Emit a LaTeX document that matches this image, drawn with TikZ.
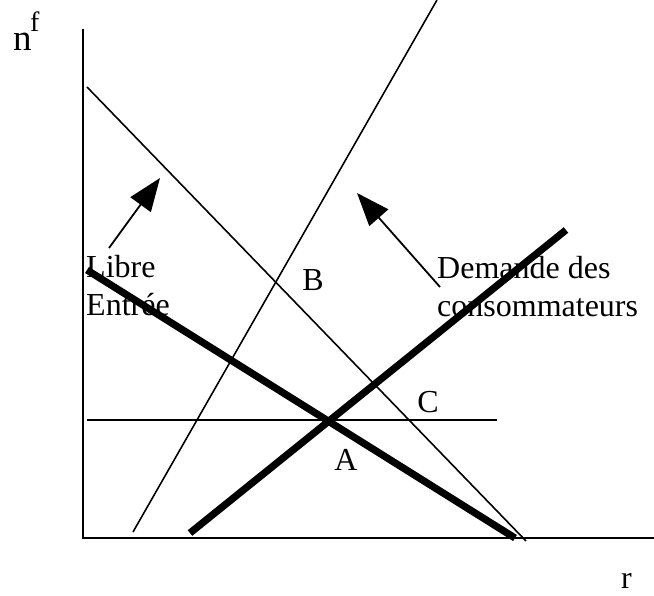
\documentclass[tikz,border=0pt]{standalone}
\usepackage{fontspec}
\setmainfont{Liberation Serif}
\usetikzlibrary{arrows.meta}
\begin{document}
\begin{tikzpicture}[x=1pt,y=-1pt,
  thinline/.style={line width=1.6pt},
  thickline/.style={line width=7.2pt},
  axis/.style={line width=2.2pt},
  lbl/.style={font=\fontsize{32}{36}\selectfont, inner sep=0pt, anchor=base west},
  ptr/.style={line width=1.8pt, -{Triangle[length=33pt,width=25pt]}}]
\useasboundingbox[fill=white] (0,0) rectangle (654,596);
% axes
\coordinate (o) at (83,538);
\coordinate (ytop) at (83,29);
\coordinate (xend) at (654,538);
\draw[axis] (ytop) -- (o) -- (xend);
% thin lines
\coordinate (d1) at (87,87);
\coordinate (d2) at (526,541);
\draw[thinline] (d1) -- (d2);
\coordinate (u1) at (133,532);
\coordinate (u2) at (437,0);
\draw[thinline] (u1) -- (u2);
\coordinate (h1) at (87,420);
\coordinate (h2) at (497,420);
\draw[thinline] (h1) -- (h2);
% thick lines
\coordinate (t1) at (87,270);
\coordinate (t2) at (515,538);
\draw[thickline] (t1) -- (t2);
\coordinate (s1) at (190,533);
\coordinate (s2) at (566,230);
\draw[thickline] (s1) -- (s2);
% labels
\node[lbl, font=\fontsize{37}{40}\selectfont] (nf) at (13,51) {n};
\node[lbl, font=\fontsize{28}{30}\selectfont] (f) at (30,32) {f};
\node[lbl] (r) at (621,588) {r};
\node[lbl] (libre) at (86,278) {Libre};
\node[lbl] (entree) at (86,316) {Entrée};
\node[lbl] (dem) at (437,279) {Demande des};
\node[lbl] (cons) at (437,317) {consommateurs};
\node[lbl, anchor=center] (B) at (313,280) {B};
\node[lbl, anchor=center] (C) at (428,402) {C};
\node[lbl, anchor=center] (A) at (346,460) {A};
% arrows
\coordinate (la) at (109,248);
\coordinate (lb) at (160,178);
\draw[ptr] (la) -- (lb);
\coordinate (da) at (440,287);
\coordinate (db) at (357,193);
\draw[ptr] (da) -- (db);
\end{tikzpicture}
\end{document}
